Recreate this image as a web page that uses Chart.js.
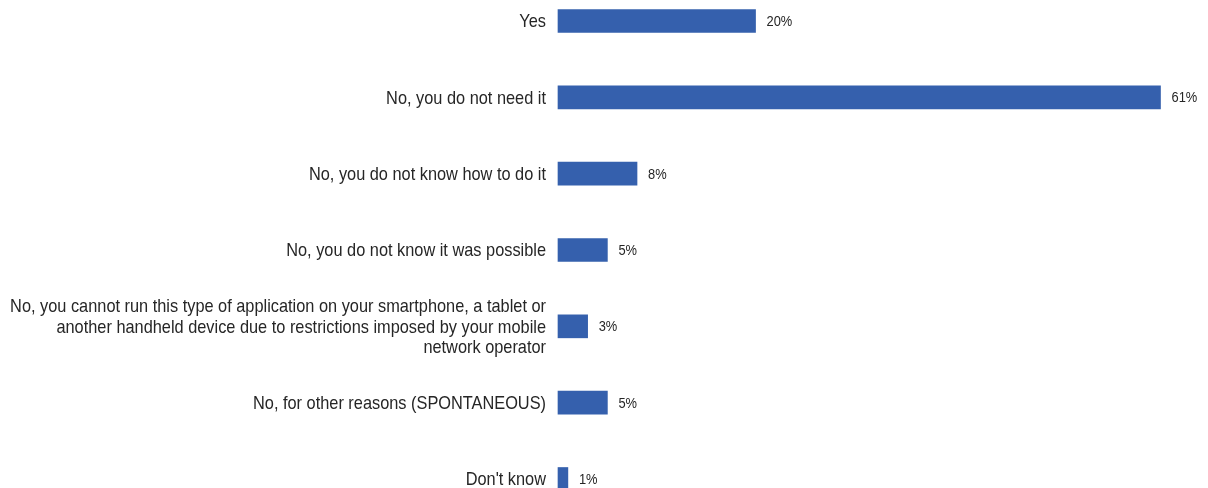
<!DOCTYPE html>
<html>
<head>
<meta charset="utf-8">
<script src="https://cdn.jsdelivr.net/npm/chart.js@4/dist/chart.umd.min.js"></script>
<style>
html,body{margin:0;padding:0;background:#fff;}
#wrap{width:1208px;height:488px;position:relative;}
</style>
</head>
<body>
<div id="wrap"><canvas id="c" width="1208" height="488"></canvas></div>
<script>
const categories = [
  ["Yes"],
  ["No, you do not need it"],
  ["No, you do not know how to do it"],
  ["No, you do not know it was possible"],
  ["No, you cannot run this type of application on your smartphone, a tablet or",
   "another handheld device due to restrictions imposed by your mobile",
   "network operator"],
  ["No, for other reasons (SPONTANEOUS)"],
  ["Don't know"]
];
const values = [20, 61, 8, 5, 3, 5, 1];
const valueLabels = ["20%", "61%", "8%", "5%", "3%", "5%", "1%"];

const FONT = "'Liberation Sans', Arial, sans-serif";
const TEXT = '#262626';
const LABEL_SIZE = 19;
const LABEL_SQUEEZE = 0.86;
const LABEL_LINE = 20.5;

// Category labels drawn as condensed text, right-aligned against the axis
const categoryLabelPlugin = {
  id: 'categoryLabels',
  afterDraw(chart) {
    const ctx = chart.ctx;
    const y = chart.scales.y;
    const xRight = chart.chartArea.left - 12;
    ctx.save();
    ctx.font = LABEL_SIZE + 'px ' + FONT;
    ctx.fillStyle = TEXT;
    ctx.textAlign = 'right';
    ctx.textBaseline = 'middle';
    chart.data.labels.forEach((lines, i) => {
      const cy = y.getPixelForValue(i);
      const n = lines.length;
      lines.forEach((line, j) => {
        const ly = cy + (j - (n - 1) / 2) * LABEL_LINE + 1;
        ctx.save();
        ctx.translate(xRight, ly);
        ctx.scale(LABEL_SQUEEZE, 1);
        ctx.fillText(line, 0, 0);
        ctx.restore();
      });
    });
    ctx.restore();
  }
};

const valueLabelPlugin = {
  id: 'valueLabels',
  afterDatasetsDraw(chart) {
    const ctx = chart.ctx;
    const meta = chart.getDatasetMeta(0);
    ctx.save();
    ctx.font = '14px ' + FONT;
    ctx.fillStyle = TEXT;
    ctx.textAlign = 'left';
    ctx.textBaseline = 'middle';
    meta.data.forEach((bar, i) => {
      ctx.save();
      ctx.translate(bar.x + 11, bar.y + 1);
      ctx.scale(0.92, 1);
      ctx.fillText(valueLabels[i], 0, 0);
      ctx.restore();
    });
    ctx.restore();
  }
};

new Chart(document.getElementById('c'), {
  type: 'bar',
  data: {
    labels: categories,
    datasets: [{
      data: values,
      backgroundColor: '#3560AD',
      borderWidth: 0,
      barThickness: 23,
      clip: false
    }]
  },
  options: {
    indexAxis: 'y',
    responsive: false,
    animation: false,
    layout: { padding: { top: 21, bottom: 9, left: 0, right: 8 } },
    plugins: { legend: { display: false }, tooltip: { enabled: false } },
    scales: {
      x: { display: false, min: 0, max: 65 },
      y: {
        offset: false,
        grid: { display: false, drawTicks: false },
        border: { display: false },
        ticks: { display: false },
        afterFit(scale) {
          scale.width = 558;
          scale.paddingTop = 0;
          scale.paddingBottom = 0;
        }
      }
    }
  },
  plugins: [categoryLabelPlugin, valueLabelPlugin]
});
</script>
</body>
</html>
